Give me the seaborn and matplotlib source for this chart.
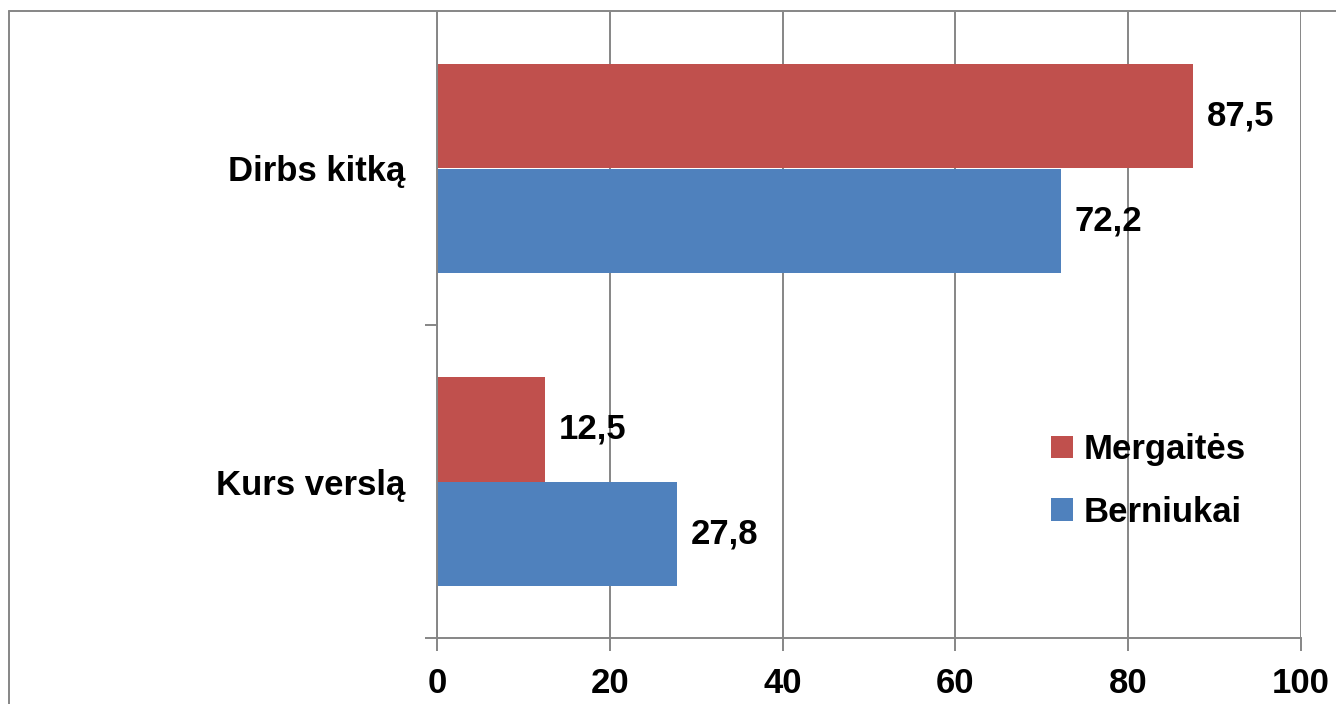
import numpy as np
import pandas as pd
import matplotlib
matplotlib.use("Agg")
import matplotlib.pyplot as plt
from matplotlib.lines import Line2D
import seaborn as sns

# data
categories = ["Dirbs kitką", "Kurs verslą"]
groups = ["Mergaitės", "Berniukai"]
mergaites = [87.5, 12.5]
berniukai = [72.2, 27.8]
x_ticks = [0, 20, 40, 60, 80, 100]

df = pd.DataFrame({
    "kategorija": categories * 2,
    "grupe": [groups[0]] * 2 + [groups[1]] * 2,
    "reiksme": mergaites + berniukai,
})

sns.set_style("white")
plt.rcParams["font.family"] = ["Liberation Sans", "DejaVu Sans"]
plt.rcParams["font.weight"] = "bold"
plt.rcParams["text.color"] = "black"
plt.rcParams["xtick.labelcolor"] = "black"
plt.rcParams["ytick.labelcolor"] = "black"

gray = "#868686"
fig = plt.figure(figsize=(13.36, 7.04), dpi=100)
ax = fig.add_axes([437 / 1336, 1 - 638 / 704, (1301 - 437) / 1336, (638 - 12) / 704])

sns.barplot(data=df, y="kategorija", x="reiksme", hue="grupe", hue_order=groups,
            order=categories, orient="h", width=2 / 3, saturation=1,
            palette=["#C0504D", "#4F81BD"], edgecolor="none", linewidth=0, ax=ax)

# value labels with decimal comma
for cont in ax.containers:
    vals = [b.get_width() for b in cont]
    ax.bar_label(cont, labels=[f"{v:.1f}".replace(".", ",") for v in vals],
                 padding=10, fontsize=25, fontweight="bold", color="black")

ax.set_xlim(0, 100)
ax.set_xticks(x_ticks)
ax.set_xticklabels([str(t) for t in x_ticks], fontsize=25, fontweight="bold")
ax.set_ylim(1.5, -0.5)
ax.set_yticks([0.5, 1.5])
ax.set_yticklabels([])
ax.set_yticks([0, 1], minor=True)
ax.set_yticklabels(categories, minor=True, fontsize=25, fontweight="bold")
ax.tick_params(axis="y", which="minor", length=0, pad=23)
ax.tick_params(axis="y", which="major", length=9, width=1.4, color=gray, direction="out", left=True)
ax.tick_params(axis="x", length=9, width=1.4, color=gray, direction="out", bottom=True, pad=12)
ax.set_xlabel("")
ax.set_ylabel("")

ax.grid(axis="x", color=gray, linewidth=1.4)
ax.grid(axis="y", visible=False)
ax.set_axisbelow(True)
for side in ["top", "right"]:
    ax.spines[side].set_visible(False)
for side in ["left", "bottom"]:
    ax.spines[side].set_color(gray)
    ax.spines[side].set_linewidth(1.4)

handles, labels = ax.get_legend_handles_labels()
ax.legend(handles, labels, frameon=False, fontsize=25, handlelength=0.62, handleheight=0.62,
          handletextpad=0.3, labelspacing=0.85, loc="upper left",
          bbox_to_anchor=(1020 / 1336, 1 - 402 / 704), bbox_transform=fig.transFigure)

# outer chart border (left and top visible)
fig.add_artist(Line2D([9 / 1336, 9 / 1336], [0, 1 - 11 / 704], transform=fig.transFigure,
                      color=gray, linewidth=1.4))
fig.add_artist(Line2D([9 / 1336, 1], [1 - 11 / 704, 1 - 11 / 704], transform=fig.transFigure,
                      color=gray, linewidth=1.4))

fig.savefig("out.png", dpi=100)
